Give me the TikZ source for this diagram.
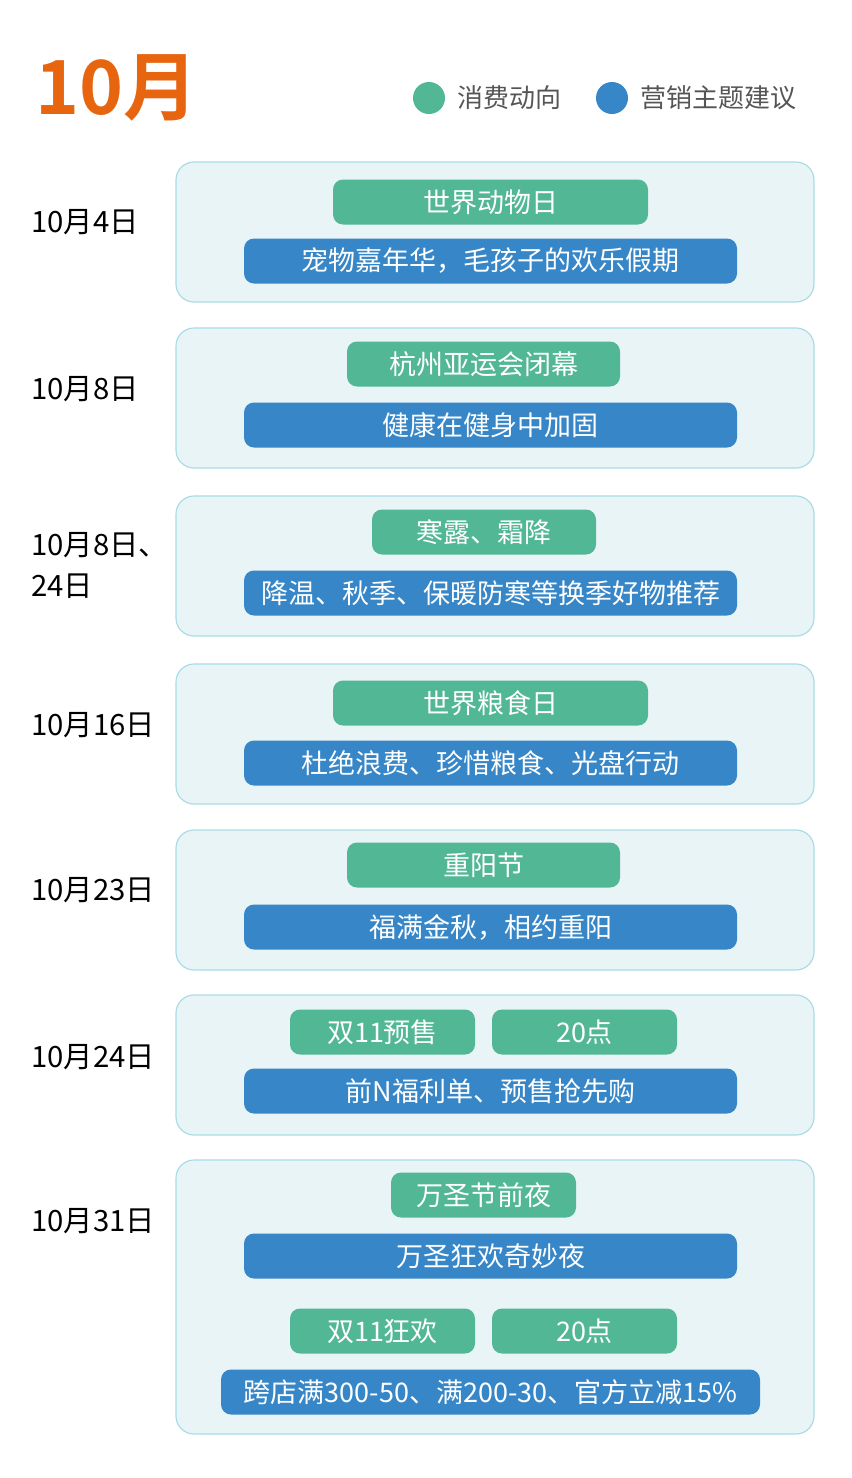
\documentclass[tikz,border=0pt]{standalone}
\usepackage{fontspec}
\setmainfont{Noto Sans CJK SC}[BoldFont={Noto Sans CJK SC Bold}]
\usetikzlibrary{positioning}

\definecolor{monthorange}{HTML}{E8650F}
\definecolor{trendgreen}{HTML}{52B794}
\definecolor{themeblue}{HTML}{3787C8}
\definecolor{panelfill}{HTML}{E9F4F6}
\definecolor{panelline}{HTML}{A9DCE6}
\definecolor{keygray}{HTML}{555555}

\begin{document}
\begin{tikzpicture}[x=0.75pt, y=-0.75pt, node distance=9pt,
  panel/.style={rectangle, rounded corners=13.5pt, draw=panelline, fill=panelfill, line width=0.9pt, minimum width=478.5pt, minimum height=105pt},
  pill/.style={rectangle, rounded corners=7.5pt, minimum height=33.75pt, inner sep=0pt, text=white, font=\fontsize{20.25}{21}\selectfont},
  trend/.style={pill, fill=trendgreen},
  theme/.style={pill, fill=themeblue, minimum width=369.75pt},
  datelabel/.style={anchor=west, inner sep=0pt, font=\fontsize{22}{30.75}\selectfont, align=left},
  keydot/.style={circle, minimum size=24pt, inner sep=0pt}]
  \useasboundingbox (0,0) rectangle (851,1478);

  % Title and legend
  \node[anchor=west, inner sep=0pt, text=monthorange, font=\bfseries\fontsize{56}{56}\selectfont] (month) at (35,88) {10月};
  \node[keydot, fill=trendgreen] (trenddot) at (429,98) {};
  \node[right=of trenddot, inner sep=0pt, text=keygray, font=\fontsize{19.5}{20}\selectfont] (trendkey) {消费动向};
  \node[keydot, fill=themeblue] (themedot) at (612,98) {};
  \node[right=of themedot, inner sep=0pt, text=keygray, font=\fontsize{19.5}{20}\selectfont] (themekey) {营销主题建议};

  % Panels
  \node[panel] (oct4) at (495,232) {};
  \node[panel] (oct8) at (495,398) {};
  \node[panel] (oct8b) at (495,566) {};
  \node[panel] (oct16) at (495,734) {};
  \node[panel] (oct23) at (495,900) {};
  \node[panel] (oct24) at (495,1065) {};
  \node[panel, minimum height=205.5pt] (oct31) at (495,1297) {};

  % Dates
  \node[datelabel] (date4) at (31,222) {10月4日};
  \node[datelabel] (date8) at (31,389) {10月8日};
  \node[datelabel] (date8b) at (31,565) {10月8日、\\24日};
  \node[datelabel] (date16) at (31,725) {10月16日};
  \node[datelabel] (date23) at (31,890) {10月23日};
  \node[datelabel] (date24) at (31,1057) {10月24日};
  \node[datelabel] (date31) at (31,1221) {10月31日};

  % Pills
  \node[trend, minimum width=236.25pt] (animal) at (490.5,202) {世界动物日};
  \node[theme] (pets) at (490.5,261) {宠物嘉年华，毛孩子的欢乐假期};

  \node[trend, minimum width=204.75pt] (asiad) at (483.5,364) {杭州亚运会闭幕};
  \node[theme] (fitness) at (490.5,425) {健康在健身中加固};

  \node[trend, minimum width=168pt] (frost) at (484,532) {寒露、霜降};
  \node[theme] (season) at (490.5,593) {降温、秋季、保暖防寒等换季好物推荐};

  \node[trend, minimum width=236.25pt] (food) at (490.5,703) {世界粮食日};
  \node[theme] (nowaste) at (490.5,763) {杜绝浪费、珍惜粮食、光盘行动};

  \node[trend, minimum width=204.75pt] (elders) at (483.5,865) {重阳节};
  \node[theme] (autumn) at (490.5,927) {福满金秋，相约重阳};

  \node[trend, minimum width=138.75pt] (presale) at (382.5,1032) {双11预售};
  \node[trend, minimum width=138.75pt] (presaletime) at (584.5,1032) {20点};
  \node[theme] (earlybird) at (490.5,1091) {前N福利单、预售抢先购};

  \node[trend, minimum width=138.75pt] (halloween) at (483.5,1195) {万圣节前夜};
  \node[theme] (night) at (490.5,1256) {万圣狂欢奇妙夜};
  \node[trend, minimum width=138.75pt] (carnival) at (382.5,1331) {双11狂欢};
  \node[trend, minimum width=138.75pt] (carnivaltime) at (584.5,1331) {20点};
  \node[theme, minimum width=404.25pt] (discount) at (490.5,1392) {跨店满300-50、满200-30、官方立减15\%};
\end{tikzpicture}
\end{document}
